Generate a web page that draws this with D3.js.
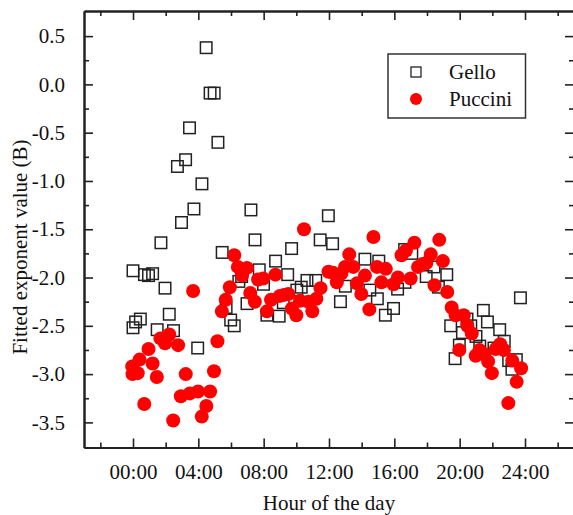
<!DOCTYPE html>
<html>
<head>
<meta charset="utf-8">
<script src="https://cdn.jsdelivr.net/npm/d3@7"></script>
<style>
  html, body { margin: 0; padding: 0; background: #fff; }
  svg { display: block; }
  text { font-family: "Liberation Serif", "Times New Roman", serif; fill: #111; }
</style>
</head>
<body>
<script>
// ---- data ----
const gelloHour = [0.0,0.0,0.16,0.45,0.7,0.95,1.2,1.48,1.71,1.96,2.22,2.48,2.72,2.97,3.22,3.46,3.73,3.96,4.22,4.48,4.72,4.97,5.2,5.46,5.70,5.98,6.2,6.48,6.65,6.98,7.22,7.47,7.73,7.99,8.2,8.73,8.95,9.2,9.47,9.71,10.03,10.3,10.65,11.19,11.46,11.96,12.22,12.7,13.0,14.2,14.5,14.96,15.05,15.45,15.95,16.2,16.65,16.63,17.07,17.95,18.43,18.7,19.21,19.45,19.72,19.98,20.17,20.45,20.68,21.0,21.23,21.45,21.70,22.1,22.45,22.73,23.0,23.2,23.47,23.72];
const gelloB = [-1.93,-2.52,-2.46,-2.43,-1.97,-1.98,-1.96,-2.54,-1.64,-2.11,-2.38,-2.55,-0.85,-1.43,-0.78,-0.45,-1.29,-2.73,-1.03,0.38,-0.09,-0.09,-0.60,-1.74,-2.31,-2.44,-2.50,-2.04,-1.99,-2.27,-1.30,-1.61,-1.92,-2.07,-2.39,-1.83,-2.40,-2.26,-1.97,-1.70,-2.13,-2.10,-2.03,-2.03,-1.61,-1.36,-1.65,-2.25,-2.09,-1.81,-2.13,-2.22,-1.83,-2.39,-2.32,-2.12,-2.05,-1.71,-1.75,-1.99,-1.89,-2.10,-1.97,-2.50,-2.84,-2.70,-2.57,-2.43,-2.50,-2.61,-2.71,-2.34,-2.46,-2.73,-2.54,-2.66,-2.86,-2.95,-2.85,-2.21];

const pucciniHour = [-0.05,-0.03,0.29,0.40,0.69,0.95,1.2,1.46,1.68,1.96,2.22,2.46,2.76,2.93,3.23,3.48,3.68,3.98,4.21,4.49,4.72,4.96,5.17,5.44,5.68,5.93,6.2,6.42,6.68,6.98,7.18,7.46,7.66,7.97,8.2,8.45,8.72,8.99,9.24,9.51,9.73,10.0,10.22,10.47,10.74,10.98,11.23,11.48,11.97,12.24,12.48,12.75,12.98,13.24,13.49,13.71,13.98,14.2,14.47,14.72,14.94,15.21,15.48,15.95,16.22,16.44,16.71,17.0,17.23,17.45,17.72,17.96,18.23,18.46,18.75,18.97,19.24,19.51,19.75,19.98,20.25,20.47,20.74,20.98,21.21,21.48,21.74,21.97,22.21,22.48,22.71,22.98,23.22,23.49,23.76];
const pucciniB = [-2.92,-3.0,-2.99,-2.85,-3.31,-2.74,-2.89,-3.03,-2.63,-2.68,-2.59,-3.48,-2.70,-3.23,-3.0,-3.20,-2.14,-3.18,-3.44,-3.33,-3.18,-2.97,-2.66,-2.35,-2.23,-2.10,-1.77,-1.89,-1.98,-1.9,-2.16,-2.25,-2.02,-2.01,-2.35,-2.23,-1.97,-2.19,-2.18,-2.17,-2.32,-2.39,-2.24,-1.50,-2.25,-2.35,-2.22,-2.11,-1.94,-1.95,-2.05,-1.96,-1.89,-1.76,-1.89,-2.06,-2.17,-1.98,-2.33,-1.58,-1.89,-2.05,-1.91,-2.07,-2.00,-1.77,-1.72,-2.01,-1.64,-1.89,-1.86,-1.85,-1.76,-2.08,-1.61,-1.83,-2.15,-2.31,-2.39,-2.75,-2.39,-2.50,-2.58,-2.81,-2.75,-2.79,-2.87,-2.99,-2.74,-2.69,-2.75,-3.30,-2.86,-3.08,-2.94];

const xMajorTicks = [0,4,8,12,16,20,24];
const xMinorTicks = [-2,2,6,10,14,18,22,26];
const yMajorTicks = [-3.5,-3.0,-2.5,-2.0,-1.5,-1.0,-0.5,0.0,0.5];
const yMinorTicks = [-3.25,-2.75,-2.25,-1.75,-1.25,-0.75,-0.25,0.25];
const seriesNames = ["Gello","Puccini"];
const xTitle = "Hour of the day";
const yTitle = "Fitted exponent value (B)";

// ---- chart ----
const W = 573, H = 515;
const L = 84, R = 574, T = 11, B = 447.5;
const svg = d3.select("body").append("svg").attr("width", W).attr("height", H);

const x = d3.scaleLinear().domain([-3, 27]).range([L, R]);
const y = d3.scaleLinear().domain([-3.76, 0.76]).range([B, T]);

const fmtHour = d => String(d).padStart(2, "0") + ":00";
const fmtY = d => d3.format(".1f")(d).replace("−", "-");

function styleAxis(g) {
  g.selectAll("path.domain").attr("stroke", "#222").attr("stroke-width", 2);
  g.selectAll(".tick line").attr("stroke", "#222").attr("stroke-width", 1.6);
  g.selectAll("text").style("font-family", "'Liberation Serif', serif").style("font-size", "21px").attr("fill", "#111");
}

// bottom axis (major with labels)
svg.append("g").attr("transform", `translate(0,${B})`)
  .call(d3.axisBottom(x).tickValues(xMajorTicks).tickSizeInner(-9).tickSizeOuter(0).tickPadding(17).tickFormat(fmtHour))
  .call(styleAxis);
svg.append("g").attr("transform", `translate(0,${B})`)
  .call(d3.axisBottom(x).tickValues(xMinorTicks).tickSizeInner(-5).tickSizeOuter(0).tickFormat(""))
  .call(styleAxis);
// top axis
svg.append("g").attr("transform", `translate(0,${T})`)
  .call(d3.axisTop(x).tickValues(xMajorTicks).tickSizeInner(-9).tickSizeOuter(0).tickFormat(""))
  .call(styleAxis);
svg.append("g").attr("transform", `translate(0,${T})`)
  .call(d3.axisTop(x).tickValues(xMinorTicks).tickSizeInner(-5).tickSizeOuter(0).tickFormat(""))
  .call(styleAxis);
// left axis
svg.append("g").attr("transform", `translate(${L},0)`)
  .call(d3.axisLeft(y).tickValues(yMajorTicks).tickSizeInner(-9).tickSizeOuter(0).tickPadding(19).tickFormat(fmtY))
  .call(styleAxis);
svg.append("g").attr("transform", `translate(${L},0)`)
  .call(d3.axisLeft(y).tickValues(yMinorTicks).tickSizeInner(-5).tickSizeOuter(0).tickFormat(""))
  .call(styleAxis);
// right axis
svg.append("g").attr("transform", `translate(${R},0)`)
  .call(d3.axisRight(y).tickValues(yMajorTicks).tickSizeInner(-9).tickSizeOuter(0).tickFormat(""))
  .call(styleAxis);
svg.append("g").attr("transform", `translate(${R},0)`)
  .call(d3.axisRight(y).tickValues(yMinorTicks).tickSizeInner(-5).tickSizeOuter(0).tickFormat(""))
  .call(styleAxis);

// axis titles
svg.append("text").attr("x", 329).attr("y", 510).attr("text-anchor", "middle")
  .style("font-size", "21px").text(xTitle);
svg.append("text").attr("transform", `translate(27,${247}) rotate(-90)`).attr("text-anchor", "middle")
  .style("font-size", "21px").text(yTitle);

// Gello squares
const gello = gelloHour.map((h, i) => ({h, v: gelloB[i]}));
const puccini = pucciniHour.map((h, i) => ({h, v: pucciniB[i]}));
const S = 11.5;
svg.append("g").selectAll("rect").data(gello).join("rect")
  .attr("x", d => x(d.h) - S / 2).attr("y", d => y(d.v) - S / 2)
  .attr("width", S).attr("height", S)
  .attr("fill", "none").attr("stroke", "#222").attr("stroke-width", 1.5);

// Puccini circles
svg.append("g").selectAll("circle").data(puccini).join("circle")
  .attr("cx", d => x(d.h)).attr("cy", d => y(d.v)).attr("r", 7)
  .attr("fill", "#ff0000");

// legend
const lg = svg.append("g");
lg.append("rect").attr("x", 388).attr("y", 54).attr("width", 137.5).attr("height", 64)
  .attr("fill", "#fff").attr("stroke", "#333").attr("stroke-width", 1.5);
lg.append("rect").attr("x", 416 - 5).attr("y", 72 - 5).attr("width", 10).attr("height", 10)
  .attr("fill", "none").attr("stroke", "#222").attr("stroke-width", 1.3);
lg.append("circle").attr("cx", 416).attr("cy", 99).attr("r", 6).attr("fill", "#ff0000");
lg.append("text").attr("x", 449).attr("y", 79).style("font-size", "21px").text(seriesNames[0]);
lg.append("text").attr("x", 449).attr("y", 105.5).style("font-size", "21px").text(seriesNames[1]);
</script>
</body>
</html>
